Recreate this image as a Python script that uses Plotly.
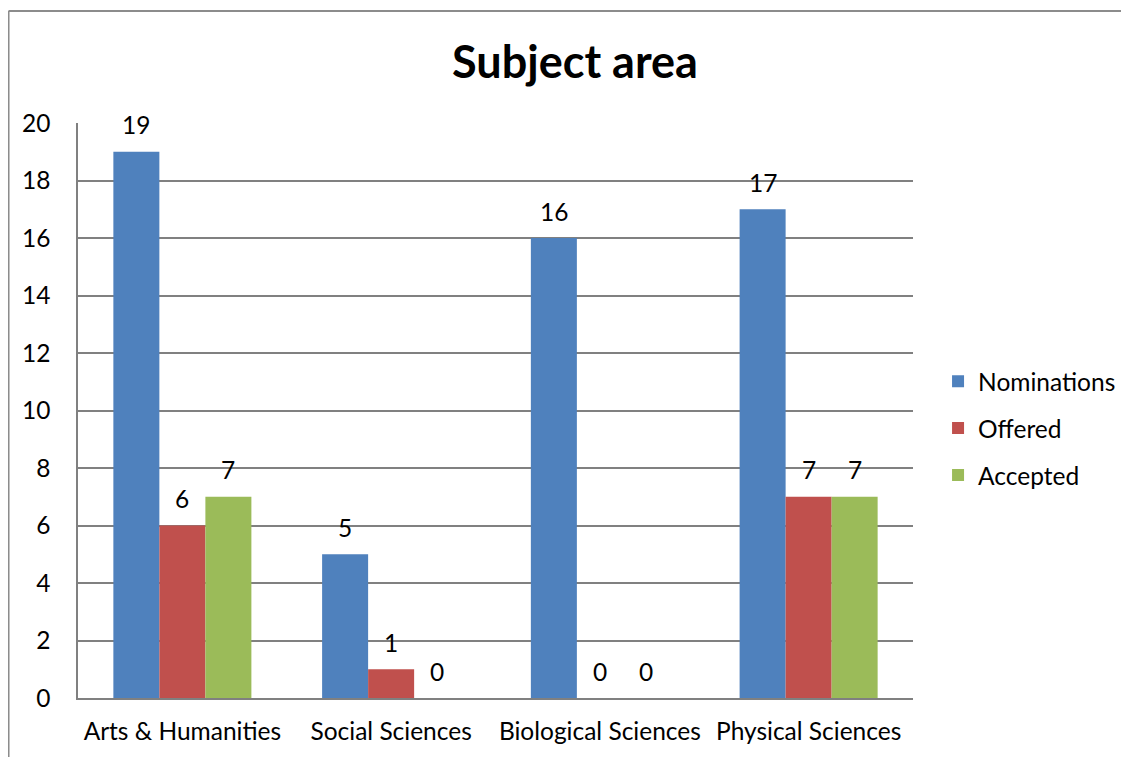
import plotly.graph_objects as go

categories = ["Arts & Humanities", "Social Sciences", "Biological Sciences", "Physical Sciences"]
nominations = [19, 5, 16, 17]
offered = [6, 1, 0, 7]
accepted = [7, 0, 0, 7]
y_ticks = [0, 2, 4, 6, 8, 10, 12, 14, 16, 18, 20]

FONT = "Lato"
FS = 24.5
BAR_W = 0.2204
series = [("Nominations", nominations, "#4F81BD"),
          ("Offered", offered, "#C0504D"),
          ("Accepted", accepted, "#9BBB59")]

fig = go.Figure()
annotations = []
for k, (name, vals, col) in enumerate(series):
    off = (k - 1.5) * BAR_W
    fig.add_trace(go.Bar(
        x=list(range(len(categories))), y=vals, name=name, marker_color=col,
        marker_line_width=0, width=BAR_W, offset=off, legendgroup=name,
    ))
    for i, v in enumerate(vals):
        annotations.append(dict(
            x=i + off + BAR_W / 2, y=v, xref="x", yref="y", text=str(v),
            showarrow=False, yanchor="middle", yshift=27,
            font=dict(size=FS, family=FONT, color="black"),
        ))

fig.update_layout(
    width=1121, height=749,
    margin=dict(l=70, r=216, t=114.5, b=59, autoexpand=False),
    paper_bgcolor="white", plot_bgcolor="white",
    barmode="group",
    font=dict(family=FONT, size=FS, color="black"),
    title=dict(text="<b>Subject area</b>", x=567 / 1121, xref="container",
               xanchor="center", y=1 - 54 / 749, yanchor="middle",
               font=dict(size=45, family=FONT, color="black")),
    legend=dict(x=1.03, xanchor="left", y=0.469, yanchor="middle",
                font=dict(size=FS, family=FONT), tracegroupgap=12,
                bgcolor="rgba(0,0,0,0)"),
    showlegend=True,
    annotations=annotations,
)
fig.update_yaxes(range=[0, 20], tickvals=y_ticks, showgrid=True, gridcolor="#808080",
                 gridwidth=1.5, showline=True, linecolor="#808080", linewidth=1.5,
                 ticks="", ticklabelstandoff=21, zeroline=False,
                 tickfont=dict(size=FS, family=FONT))
fig.update_xaxes(range=[-0.5, len(categories) - 0.5],
                 tickvals=list(range(len(categories))), ticktext=categories,
                 showline=True, linecolor="#808080", linewidth=2, ticks="",
                 showgrid=False, zeroline=False,
                 ticklabelstandoff=11, tickfont=dict(size=FS, family=FONT))

# chart frame (top and left edges)
fig.add_shape(type="line", xref="paper", yref="paper", x0=-0.0832, x1=1.3, y0=1.1946, y1=1.1946,
              line=dict(color="#8c8c8c", width=2))
fig.add_shape(type="line", xref="paper", yref="paper", x0=-0.0832, x1=-0.0832, y0=1.1946, y1=-0.11,
              line=dict(color="#8c8c8c", width=2))

fig.write_html("out.html")
